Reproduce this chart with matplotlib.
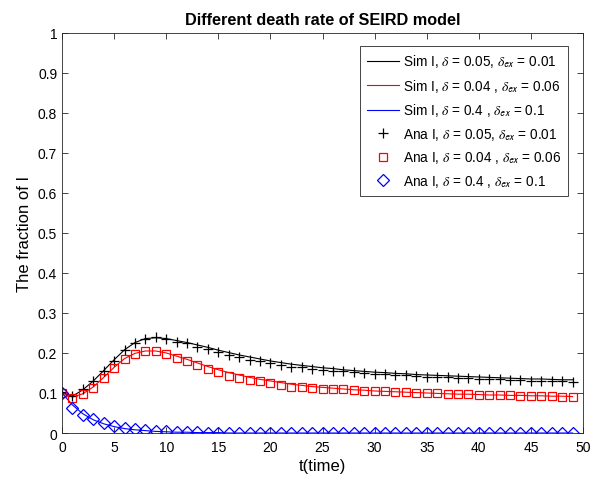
import numpy as np
import matplotlib
matplotlib.use("Agg")
import matplotlib.pyplot as plt

plt.rcParams['font.family'] = ['Liberation Sans', 'DejaVu Sans']
plt.rcParams['mathtext.fontset'] = 'stix'

# time steps
t = list(range(50))

# Ana I, delta = 0.05, delta_ex = 0.01 (black +)
ana_black = [0.102, 0.092, 0.110, 0.130, 0.155, 0.180, 0.207, 0.224, 0.234, 0.239,
             0.235, 0.228, 0.224, 0.216, 0.210, 0.202, 0.195, 0.189, 0.183, 0.179,
             0.175, 0.170, 0.166, 0.164, 0.161, 0.158, 0.156, 0.154, 0.152, 0.150,
             0.148, 0.147, 0.145, 0.144, 0.143, 0.141, 0.140, 0.139, 0.138, 0.137,
             0.136, 0.135, 0.134, 0.133, 0.132, 0.131, 0.130, 0.129, 0.129, 0.128]
# Sim I, delta = 0.05, delta_ex = 0.01 (black line)
sim_black = [0.100, 0.092, 0.108, 0.130, 0.156, 0.183, 0.208, 0.226, 0.236, 0.238,
             0.236, 0.231, 0.226, 0.220, 0.214, 0.207, 0.201, 0.195, 0.190, 0.185,
             0.180, 0.176, 0.172, 0.169, 0.166, 0.163, 0.161, 0.158, 0.156, 0.154,
             0.152, 0.151, 0.149, 0.148, 0.146, 0.145, 0.144, 0.143, 0.142, 0.141,
             0.140, 0.139, 0.138, 0.137, 0.136, 0.135, 0.135, 0.134, 0.133, 0.133]

# Ana I, delta = 0.04, delta_ex = 0.06 (red squares)
ana_red = [0.100, 0.087, 0.097, 0.112, 0.137, 0.162, 0.185, 0.197, 0.204, 0.204,
           0.197, 0.187, 0.180, 0.169, 0.160, 0.152, 0.143, 0.137, 0.133, 0.129,
           0.125, 0.120, 0.116, 0.115, 0.113, 0.111, 0.110, 0.109, 0.107, 0.106,
           0.105, 0.104, 0.103, 0.102, 0.101, 0.100, 0.099, 0.098, 0.097, 0.097,
           0.096, 0.095, 0.095, 0.094, 0.093, 0.093, 0.092, 0.092, 0.091, 0.091]
# Sim I, delta = 0.04, delta_ex = 0.06 (red line)
sim_red = [0.100, 0.090, 0.098, 0.115, 0.139, 0.164, 0.186, 0.199, 0.205, 0.205,
           0.200, 0.192, 0.184, 0.175, 0.166, 0.158, 0.151, 0.145, 0.139, 0.134,
           0.130, 0.126, 0.122, 0.119, 0.116, 0.114, 0.112, 0.110, 0.108, 0.107,
           0.105, 0.104, 0.103, 0.102, 0.101, 0.100, 0.099, 0.098, 0.097, 0.097,
           0.096, 0.095, 0.095, 0.094, 0.094, 0.093, 0.093, 0.092, 0.092, 0.091]

# Ana / Sim I, delta = 0.4, delta_ex = 0.1 (blue)
ana_blue = [0.100, 0.062, 0.045, 0.035, 0.025, 0.018, 0.013, 0.009, 0.007, 0.005,
            0.004, 0.003, 0.002, 0.002, 0.001, 0.001, 0.001, 0.001, 0.000, 0.000,
            0.000, 0.000, 0.000, 0.000, 0.000, 0.000, 0.000, 0.000, 0.000, 0.000,
            0.000, 0.000, 0.000, 0.000, 0.000, 0.000, 0.000, 0.000, 0.000, 0.000,
            0.000, 0.000, 0.000, 0.000, 0.000, 0.000, 0.000, 0.000, 0.000, 0.000]
sim_blue = [0.100, 0.070, 0.048, 0.033, 0.023, 0.016, 0.011, 0.008, 0.006, 0.004,
            0.003, 0.002, 0.002, 0.001, 0.001, 0.001, 0.000, 0.000, 0.000, 0.000,
            0.000, 0.000, 0.000, 0.000, 0.000, 0.000, 0.000, 0.000, 0.000, 0.000,
            0.000, 0.000, 0.000, 0.000, 0.000, 0.000, 0.000, 0.000, 0.000, 0.000,
            0.000, 0.000, 0.000, 0.000, 0.000, 0.000, 0.000, 0.000, 0.000, 0.000]

DE = r'$\delta_{\mathsf{ex}}$'
D = r'$\delta$'

fig = plt.figure(figsize=(5.93, 4.81), dpi=100)
ax = fig.add_axes([0.1046, 0.0977, 0.8785, 0.832])

ax.plot(t, sim_black, color='black', lw=0.8, label=f'Sim I, {D} = 0.05, {DE} = 0.01')
ax.plot(t, sim_red, color='red', lw=0.8, label=f'Sim I, {D} = 0.04 , {DE} = 0.06')
ax.plot(t, sim_blue, color='blue', lw=0.8, label=f'Sim I, {D} = 0.4 , {DE} = 0.1')
ax.plot(t, ana_black, ls='none', marker='+', ms=7, mew=0.9, color='black',
        label=f'Ana I, {D} = 0.05, {DE} = 0.01')
ax.plot(t, ana_red, ls='none', marker='s', ms=5.8, mew=0.9, mfc='none', color='red',
        label=f'Ana I, {D} = 0.04 , {DE} = 0.06')
ax.plot(t, ana_blue, ls='none', marker='D', ms=6, mew=0.9, mfc='none', color='blue',
        label=f'Ana I, {D} = 0.4 , {DE} = 0.1')

ax.set_xlim(0, 50)
ax.set_ylim(0, 1)
ax.set_xticks(np.arange(0, 51, 5))
ax.set_yticks(np.arange(0, 1.01, 0.1))
ax.set_yticklabels(['0', '0.1', '0.2', '0.3', '0.4', '0.5', '0.6', '0.7', '0.8', '0.9', '1'])
ax.tick_params(direction='in', top=True, right=True, labelsize=10, length=4,
               color='#262626', width=0.6)
ax.tick_params(axis='x', pad=5)
for s in ax.spines.values():
    s.set_color('#262626')
    s.set_linewidth(0.6)

ax.set_title('Different death rate of SEIRD model', fontsize=11.7, fontweight='bold', pad=6)
ax.set_xlabel('t(time)', fontsize=12, labelpad=3)
ax.set_ylabel('The fraction of I', fontsize=12)

leg = ax.legend(loc='upper right', bbox_to_anchor=(0.971, 0.968), borderaxespad=0,
                fontsize=9.8, fancybox=False, framealpha=1, edgecolor='#262626',
                handlelength=2.4, handletextpad=0.25, borderpad=0.5, labelspacing=0.55)
leg.get_frame().set_linewidth(0.6)

plt.savefig('out.png', dpi=100)
